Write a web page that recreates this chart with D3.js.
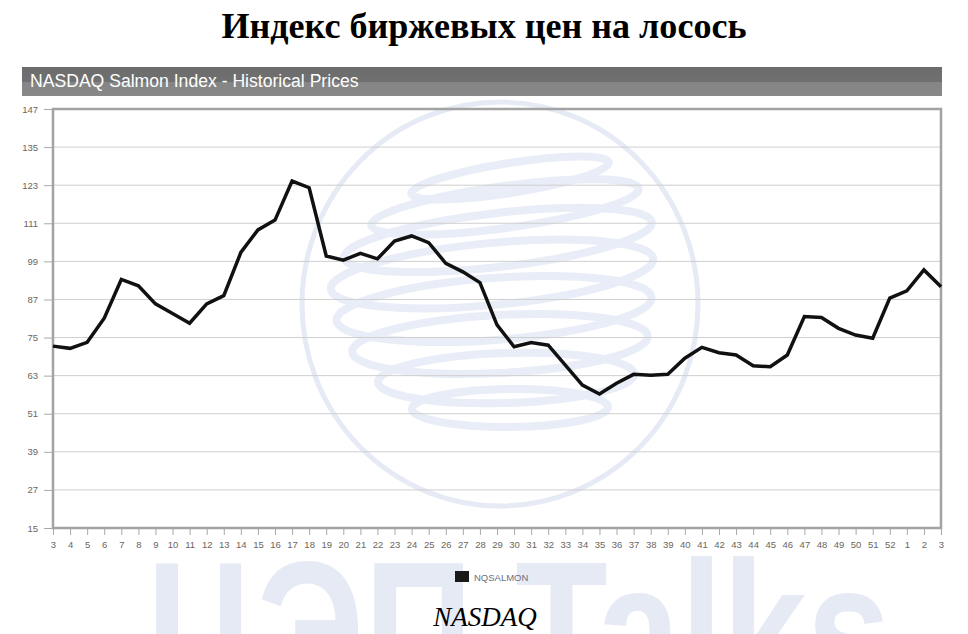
<!DOCTYPE html>
<html>
<head>
<meta charset="utf-8">
<script src="https://cdn.jsdelivr.net/npm/d3@7"></script>
<style>
  body { margin: 0; background: #fff; }
  #main svg { display: block; }
  .tick text { font-family: "Liberation Sans", Arial, sans-serif; font-size: 9.5px; fill: #6b6660; }
</style>
</head>
<body>
<div id="main"></div>
<script>
// week numbers on the x-axis (year wraps after 52)
const weeks = [3,4,5,6,7,8,9,10,11,12,13,14,15,16,17,18,19,20,21,22,23,24,25,26,27,28,
               29,30,31,32,33,34,35,36,37,38,39,40,41,42,43,44,45,46,47,48,49,50,51,52,1,2,3];
// NQSALMON index values, one per week
const prices = [72.3,71.6,73.5,81.1,93.3,91.3,85.6,82.6,79.5,85.6,88.2,101.8,108.9,112.0,124.3,122.2,
                100.7,99.4,101.5,99.8,105.4,107.0,104.9,98.4,95.7,92.3,79.0,72.1,73.4,72.6,66.3,60.0,
                57.2,60.6,63.4,63.1,63.4,68.5,71.9,70.2,69.5,66.1,65.8,69.5,81.6,81.3,77.9,75.8,74.8,
                87.4,89.7,96.3,91.0];
const yTicks = [15,27,39,51,63,75,87,99,111,123,135,147];
const seriesName = "NQSALMON";

const ctx = {
    w: 968,
    h: 634,
    left: 53, right: 941, top: 109, bottom: 528,
};

function drawWatermark(g){
    const wm = "#e5eaf5";
    // globe
    g.append("ellipse")
      .attr("cx", 500).attr("cy", 304).attr("rx", 198).attr("ry", 202)
      .attr("fill", "none").attr("stroke", wm).attr("stroke-width", 5);
    // swirl rings
    const rings = [[510,178,100,15],[505,207,135,21],[498,240,155,27],[492,274,162,31],
                   [494,309,158,31],[500,344,148,29],[506,378,128,25],[510,408,98,19]];
    rings.forEach(([cx, cy, rx, ry], i) => {
        g.append("ellipse")
          .attr("cx", cx).attr("cy", cy).attr("rx", rx).attr("ry", ry)
          .attr("transform", `rotate(${-9 + i * 1.2}, ${cx}, ${cy})`)
          .attr("fill", "none").attr("stroke", "#e9edf7").attr("stroke-width", 8);
    });
    // big brand text at the bottom, cut by the page edge
    g.append("text")
      .attr("x", 146).attr("y", 700)
      .attr("textLength", 745).attr("lengthAdjust", "spacingAndGlyphs")
      .style("font-family", "Liberation Sans, Arial, sans-serif")
      .style("font-weight", "bold").style("font-size", "198px")
      .attr("fill", wm)
      .text("ЦЭП Talks");
}

function initSVGcanvas(){
    ctx.xScale = d3.scalePoint().domain(d3.range(weeks.length))
                               .range([ctx.left, ctx.right]);
    ctx.yScale = d3.scaleLinear().domain([15, 147])
                                 .range([ctx.bottom, ctx.top]);
    const bkg = d3.select("#bkgG");
    // title
    bkg.append("text")
      .attr("x", ctx.w/2).attr("y", 38)
      .attr("text-anchor", "middle")
      .attr("textLength", 525).attr("lengthAdjust", "spacingAndGlyphs")
      .style("font-family", "Liberation Serif, Times New Roman, serif")
      .style("font-weight", "bold").style("font-size", "36px")
      .text("Индекс биржевых цен на лосось");
    // header bar
    const grad = d3.select("svg").append("defs").append("linearGradient")
      .attr("id", "hdr").attr("x1", 0).attr("x2", 0).attr("y1", 0).attr("y2", 1);
    grad.append("stop").attr("offset", "0%").attr("stop-color", "#6c6c6c");
    grad.append("stop").attr("offset", "50%").attr("stop-color", "#707070");
    grad.append("stop").attr("offset", "50%").attr("stop-color", "#858585");
    grad.append("stop").attr("offset", "100%").attr("stop-color", "#888888");
    bkg.append("rect")
      .attr("x", 22).attr("y", 67).attr("width", 920).attr("height", 29)
      .attr("fill", "url(#hdr)");
    bkg.append("text")
      .attr("x", 30).attr("y", 87)
      .style("font-family", "Liberation Sans, Arial, sans-serif")
      .style("font-size", "17.6px").attr("fill", "#fff")
      .text("NASDAQ Salmon Index - Historical Prices");
    // horizontal grid lines
    bkg.append("g").selectAll("line").data(yTicks.slice(1)).enter().append("line")
      .attr("x1", ctx.left).attr("x2", ctx.right)
      .attr("y1", (d) => ctx.yScale(d)).attr("y2", (d) => ctx.yScale(d))
      .attr("stroke", "#cfcfcf").attr("stroke-width", 1);
    // y-axis
    const yAx = bkg.append("g")
      .attr("transform", `translate(${ctx.left},0)`)
      .call(d3.axisLeft(ctx.yScale).tickValues(yTicks).tickSize(9).tickPadding(6));
    yAx.select(".domain").remove();
    yAx.selectAll(".tick line").attr("stroke", "#a8a8a8");
    // x-axis
    const xAx = bkg.append("g")
      .attr("transform", `translate(0,${ctx.bottom})`)
      .call(d3.axisBottom(ctx.xScale).tickFormat((i) => weeks[i]).tickSize(7).tickPadding(6));
    xAx.select(".domain").remove();
    xAx.selectAll(".tick line").attr("stroke", "#a8a8a8");
    // plot frame
    bkg.append("rect")
      .attr("x", ctx.left).attr("y", ctx.top)
      .attr("width", ctx.right - ctx.left).attr("height", ctx.bottom - ctx.top)
      .attr("fill", "none").attr("stroke", "#a3a3a3").attr("stroke-width", 2.5);
    // legend
    const lg = bkg.append("g").attr("transform", "translate(455,571)");
    lg.append("rect").attr("width", 14).attr("height", 11).attr("fill", "#1a1a1a");
    lg.append("text").attr("x", 19).attr("y", 10)
      .style("font-family", "Liberation Sans, Arial, sans-serif")
      .style("font-size", "9.5px").attr("fill", "#6a6f80")
      .text(seriesName);
    // source
    bkg.append("text")
      .attr("x", 485).attr("y", 626).attr("text-anchor", "middle")
      .style("font-family", "Liberation Serif, Times New Roman, serif")
      .style("font-style", "italic").style("font-size", "27px")
      .text("NASDAQ");
}

function populateSVGcanvas(){
    const line = d3.line()
      .x((d, i) => ctx.xScale(i))
      .y((d) => ctx.yScale(d));
    d3.select("#lineG").append("path")
      .datum(prices)
      .attr("d", line)
      .attr("fill", "none")
      .attr("stroke", "#111")
      .attr("stroke-width", 3.5)
      .attr("stroke-linejoin", "miter");
}

function createViz(){
    let svgEl = d3.select("#main").append("svg");
    svgEl.attr("width", ctx.w);
    svgEl.attr("height", ctx.h);
    let rootG = svgEl.append("g").attr("id", "rootG");
    drawWatermark(rootG.append("g").attr("id", "wmG"));
    rootG.append("g").attr("id", "bkgG");
    rootG.append("g").attr("id", "lineG");
    initSVGcanvas();
    populateSVGcanvas();
}

createViz();
</script>
</body>
</html>
